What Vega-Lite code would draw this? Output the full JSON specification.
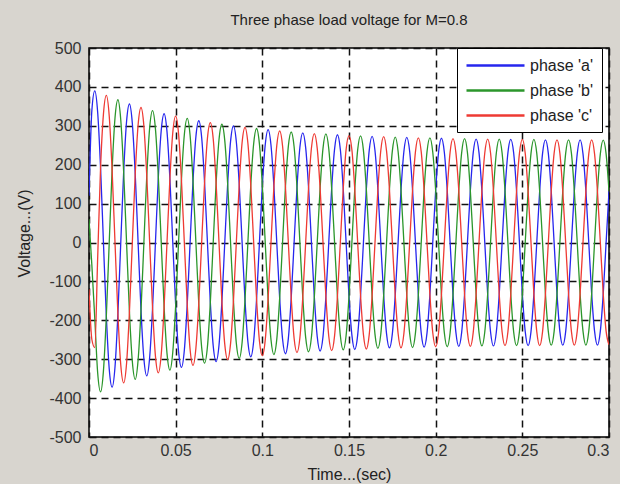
{
"$schema": "https://vega.github.io/schema/vega-lite/v6.json",
"width": 520, "height": 389,
"autosize": {"type": "none"},
"padding": {"left": 89, "top": 48, "right": 11, "bottom": 47},
"background": "#d8d5cf",
"title": {"text": "Three phase load voltage for M=0.8", "font": "Liberation Sans", "fontSize": 15, "fontWeight": "normal", "color": "#222222", "offset": 12, "anchor": "middle"},
"config": {
  "view": {"fill": "white", "stroke": "black", "strokeWidth": 1.5},
  "axis": {"labelFont": "Liberation Sans", "labelFontSize": 16, "labelColor": "#333333", "titleFont": "Liberation Sans", "titleFontSize": 16, "titleFontWeight": "normal", "titleColor": "#222222", "grid": true, "gridColor": "#111111", "gridDash": [7, 5], "gridWidth": 1.5, "gridOpacity": 1, "domain": false, "ticks": false, "zindex": 1}
},
"data": {"values": [
{"p":"a","t":0,"v":120},{"p":"a","t":0.00167,"v":341},{"p":"a","t":0.00333,"v":390},{"p":"a","t":0.005,"v":335},{"p":"a","t":0.00667,"v":192},{"p":"a","t":0.00833,"v":0},{"p":"a","t":0.01,"v":-189},{"p":"a","t":0.01167,"v":-325},{"p":"a","t":0.01333,"v":-372},{"p":"a","t":0.015,"v":-320},{"p":"a","t":0.01667,"v":-183},{"p":"a","t":0.01833,"v":0},
{"p":"a","t":0.02,"v":181},{"p":"a","t":0.02167,"v":311},{"p":"a","t":0.02333,"v":356},{"p":"a","t":0.025,"v":306},{"p":"a","t":0.02667,"v":176},{"p":"a","t":0.02833,"v":0},{"p":"a","t":0.03,"v":-174},{"p":"a","t":0.03167,"v":-299},{"p":"a","t":0.03333,"v":-343},{"p":"a","t":0.035,"v":-295},{"p":"a","t":0.03667,"v":-169},{"p":"a","t":0.03833,"v":0},
{"p":"a","t":0.04,"v":168},{"p":"a","t":0.04167,"v":288},{"p":"a","t":0.04333,"v":331},{"p":"a","t":0.045,"v":285},{"p":"a","t":0.04667,"v":164},{"p":"a","t":0.04833,"v":0},{"p":"a","t":0.05,"v":-162},{"p":"a","t":0.05167,"v":-280},{"p":"a","t":0.05333,"v":-321},{"p":"a","t":0.055,"v":-277},{"p":"a","t":0.05667,"v":-159},{"p":"a","t":0.05833,"v":0},
{"p":"a","t":0.06,"v":158},{"p":"a","t":0.06167,"v":272},{"p":"a","t":0.06333,"v":313},{"p":"a","t":0.065,"v":270},{"p":"a","t":0.06667,"v":155},{"p":"a","t":0.06833,"v":0},{"p":"a","t":0.07,"v":-154},{"p":"a","t":0.07167,"v":-266},{"p":"a","t":0.07333,"v":-306},{"p":"a","t":0.075,"v":-264},{"p":"a","t":0.07667,"v":-152},{"p":"a","t":0.07833,"v":0},
{"p":"a","t":0.08,"v":151},{"p":"a","t":0.08167,"v":260},{"p":"a","t":0.08333,"v":300},{"p":"a","t":0.085,"v":259},{"p":"a","t":0.08667,"v":149},{"p":"a","t":0.08833,"v":0},{"p":"a","t":0.09,"v":-148},{"p":"a","t":0.09167,"v":-255},{"p":"a","t":0.09333,"v":-294},{"p":"a","t":0.095,"v":-254},{"p":"a","t":0.09667,"v":-146},{"p":"a","t":0.09833,"v":0},
{"p":"a","t":0.1,"v":146},{"p":"a","t":0.10167,"v":251},{"p":"a","t":0.10333,"v":290},{"p":"a","t":0.105,"v":250},{"p":"a","t":0.10667,"v":144},{"p":"a","t":0.10833,"v":0},{"p":"a","t":0.11,"v":-143},{"p":"a","t":0.11167,"v":-248},{"p":"a","t":0.11333,"v":-286},{"p":"a","t":0.115,"v":-247},{"p":"a","t":0.11667,"v":-142},{"p":"a","t":0.11833,"v":0},
{"p":"a","t":0.12,"v":142},{"p":"a","t":0.12167,"v":245},{"p":"a","t":0.12333,"v":282},{"p":"a","t":0.125,"v":244},{"p":"a","t":0.12667,"v":141},{"p":"a","t":0.12833,"v":0},{"p":"a","t":0.13,"v":-140},{"p":"a","t":0.13167,"v":-242},{"p":"a","t":0.13333,"v":-279},{"p":"a","t":0.135,"v":-242},{"p":"a","t":0.13667,"v":-139},{"p":"a","t":0.13833,"v":0},
{"p":"a","t":0.14,"v":139},{"p":"a","t":0.14167,"v":240},{"p":"a","t":0.14333,"v":277},{"p":"a","t":0.145,"v":239},{"p":"a","t":0.14667,"v":138},{"p":"a","t":0.14833,"v":0},{"p":"a","t":0.15,"v":-138},{"p":"a","t":0.15167,"v":-238},{"p":"a","t":0.15333,"v":-275},{"p":"a","t":0.155,"v":-238},{"p":"a","t":0.15667,"v":-137},{"p":"a","t":0.15833,"v":0},
{"p":"a","t":0.16,"v":137},{"p":"a","t":0.16167,"v":237},{"p":"a","t":0.16333,"v":273},{"p":"a","t":0.165,"v":236},{"p":"a","t":0.16667,"v":136},{"p":"a","t":0.16833,"v":0},{"p":"a","t":0.17,"v":-136},{"p":"a","t":0.17167,"v":-235},{"p":"a","t":0.17333,"v":-271},{"p":"a","t":0.175,"v":-235},{"p":"a","t":0.17667,"v":-136},{"p":"a","t":0.17833,"v":0},
{"p":"a","t":0.18,"v":135},{"p":"a","t":0.18167,"v":234},{"p":"a","t":0.18333,"v":270},{"p":"a","t":0.185,"v":234},{"p":"a","t":0.18667,"v":135},{"p":"a","t":0.18833,"v":0},{"p":"a","t":0.19,"v":-135},{"p":"a","t":0.19167,"v":-233},{"p":"a","t":0.19333,"v":-269},{"p":"a","t":0.195,"v":-233},{"p":"a","t":0.19667,"v":-134},{"p":"a","t":0.19833,"v":0},
{"p":"a","t":0.2,"v":134},{"p":"a","t":0.20167,"v":232},{"p":"a","t":0.20333,"v":268},{"p":"a","t":0.205,"v":232},{"p":"a","t":0.20667,"v":134},{"p":"a","t":0.20833,"v":0},{"p":"a","t":0.21,"v":-134},{"p":"a","t":0.21167,"v":-231},{"p":"a","t":0.21333,"v":-267},{"p":"a","t":0.215,"v":-231},{"p":"a","t":0.21667,"v":-133},{"p":"a","t":0.21833,"v":0},
{"p":"a","t":0.22,"v":133},{"p":"a","t":0.22167,"v":231},{"p":"a","t":0.22333,"v":266},{"p":"a","t":0.225,"v":231},{"p":"a","t":0.22667,"v":133},{"p":"a","t":0.22833,"v":0},{"p":"a","t":0.23,"v":-133},{"p":"a","t":0.23167,"v":-230},{"p":"a","t":0.23333,"v":-266},{"p":"a","t":0.235,"v":-230},{"p":"a","t":0.23667,"v":-133},{"p":"a","t":0.23833,"v":0},
{"p":"a","t":0.24,"v":133},{"p":"a","t":0.24167,"v":230},{"p":"a","t":0.24333,"v":265},{"p":"a","t":0.245,"v":230},{"p":"a","t":0.24667,"v":133},{"p":"a","t":0.24833,"v":0},{"p":"a","t":0.25,"v":-132},{"p":"a","t":0.25167,"v":-229},{"p":"a","t":0.25333,"v":-265},{"p":"a","t":0.255,"v":-229},{"p":"a","t":0.25667,"v":-132},{"p":"a","t":0.25833,"v":0},
{"p":"a","t":0.26,"v":132},{"p":"a","t":0.26167,"v":229},{"p":"a","t":0.26333,"v":264},{"p":"a","t":0.265,"v":229},{"p":"a","t":0.26667,"v":132},{"p":"a","t":0.26833,"v":0},{"p":"a","t":0.27,"v":-132},{"p":"a","t":0.27167,"v":-229},{"p":"a","t":0.27333,"v":-264},{"p":"a","t":0.275,"v":-229},{"p":"a","t":0.27667,"v":-132},{"p":"a","t":0.27833,"v":0},
{"p":"a","t":0.28,"v":132},{"p":"a","t":0.28167,"v":228},{"p":"a","t":0.28333,"v":264},{"p":"a","t":0.285,"v":228},{"p":"a","t":0.28667,"v":132},{"p":"a","t":0.28833,"v":0},{"p":"a","t":0.29,"v":-132},{"p":"a","t":0.29167,"v":-228},{"p":"a","t":0.29333,"v":-264},{"p":"a","t":0.295,"v":-228},{"p":"a","t":0.29667,"v":-132},{"p":"a","t":0.29833,"v":0},
{"p":"a","t":0.3,"v":132},
{"p":"b","t":0,"v":60},{"p":"b","t":0.00167,"v":-60},{"p":"b","t":0.00333,"v":-195},{"p":"b","t":0.005,"v":-335},{"p":"b","t":0.00667,"v":-384},{"p":"b","t":0.00833,"v":-330},{"p":"b","t":0.01,"v":-189},{"p":"b","t":0.01167,"v":0},{"p":"b","t":0.01333,"v":186},{"p":"b","t":0.015,"v":320},{"p":"b","t":0.01667,"v":367},{"p":"b","t":0.01833,"v":315},
{"p":"b","t":0.02,"v":181},{"p":"b","t":0.02167,"v":0},{"p":"b","t":0.02333,"v":-178},{"p":"b","t":0.025,"v":-306},{"p":"b","t":0.02667,"v":-352},{"p":"b","t":0.02833,"v":-302},{"p":"b","t":0.03,"v":-174},{"p":"b","t":0.03167,"v":0},{"p":"b","t":0.03333,"v":171},{"p":"b","t":0.035,"v":295},{"p":"b","t":0.03667,"v":339},{"p":"b","t":0.03833,"v":292},
{"p":"b","t":0.04,"v":168},{"p":"b","t":0.04167,"v":0},{"p":"b","t":0.04333,"v":-166},{"p":"b","t":0.045,"v":-285},{"p":"b","t":0.04667,"v":-328},{"p":"b","t":0.04833,"v":-282},{"p":"b","t":0.05,"v":-162},{"p":"b","t":0.05167,"v":0},{"p":"b","t":0.05333,"v":161},{"p":"b","t":0.055,"v":277},{"p":"b","t":0.05667,"v":319},{"p":"b","t":0.05833,"v":275},
{"p":"b","t":0.06,"v":158},{"p":"b","t":0.06167,"v":0},{"p":"b","t":0.06333,"v":-157},{"p":"b","t":0.065,"v":-270},{"p":"b","t":0.06667,"v":-310},{"p":"b","t":0.06833,"v":-268},{"p":"b","t":0.07,"v":-154},{"p":"b","t":0.07167,"v":0},{"p":"b","t":0.07333,"v":153},{"p":"b","t":0.075,"v":264},{"p":"b","t":0.07667,"v":304},{"p":"b","t":0.07833,"v":262},
{"p":"b","t":0.08,"v":151},{"p":"b","t":0.08167,"v":0},{"p":"b","t":0.08333,"v":-150},{"p":"b","t":0.085,"v":-259},{"p":"b","t":0.08667,"v":-298},{"p":"b","t":0.08833,"v":-257},{"p":"b","t":0.09,"v":-148},{"p":"b","t":0.09167,"v":0},{"p":"b","t":0.09333,"v":147},{"p":"b","t":0.095,"v":254},{"p":"b","t":0.09667,"v":293},{"p":"b","t":0.09833,"v":253},
{"p":"b","t":0.1,"v":146},{"p":"b","t":0.10167,"v":0},{"p":"b","t":0.10333,"v":-145},{"p":"b","t":0.105,"v":-250},{"p":"b","t":0.10667,"v":-288},{"p":"b","t":0.10833,"v":-249},{"p":"b","t":0.11,"v":-143},{"p":"b","t":0.11167,"v":0},{"p":"b","t":0.11333,"v":143},{"p":"b","t":0.115,"v":247},{"p":"b","t":0.11667,"v":284},{"p":"b","t":0.11833,"v":246},
{"p":"b","t":0.12,"v":142},{"p":"b","t":0.12167,"v":0},{"p":"b","t":0.12333,"v":-141},{"p":"b","t":0.125,"v":-244},{"p":"b","t":0.12667,"v":-281},{"p":"b","t":0.12833,"v":-243},{"p":"b","t":0.13,"v":-140},{"p":"b","t":0.13167,"v":0},{"p":"b","t":0.13333,"v":140},{"p":"b","t":0.135,"v":242},{"p":"b","t":0.13667,"v":279},{"p":"b","t":0.13833,"v":241},
{"p":"b","t":0.14,"v":139},{"p":"b","t":0.14167,"v":0},{"p":"b","t":0.14333,"v":-138},{"p":"b","t":0.145,"v":-239},{"p":"b","t":0.14667,"v":-276},{"p":"b","t":0.14833,"v":-239},{"p":"b","t":0.15,"v":-138},{"p":"b","t":0.15167,"v":0},{"p":"b","t":0.15333,"v":137},{"p":"b","t":0.155,"v":238},{"p":"b","t":0.15667,"v":274},{"p":"b","t":0.15833,"v":237},
{"p":"b","t":0.16,"v":137},{"p":"b","t":0.16167,"v":0},{"p":"b","t":0.16333,"v":-137},{"p":"b","t":0.165,"v":-236},{"p":"b","t":0.16667,"v":-272},{"p":"b","t":0.16833,"v":-236},{"p":"b","t":0.17,"v":-136},{"p":"b","t":0.17167,"v":0},{"p":"b","t":0.17333,"v":136},{"p":"b","t":0.175,"v":235},{"p":"b","t":0.17667,"v":271},{"p":"b","t":0.17833,"v":234},
{"p":"b","t":0.18,"v":135},{"p":"b","t":0.18167,"v":0},{"p":"b","t":0.18333,"v":-135},{"p":"b","t":0.185,"v":-234},{"p":"b","t":0.18667,"v":-270},{"p":"b","t":0.18833,"v":-233},{"p":"b","t":0.19,"v":-135},{"p":"b","t":0.19167,"v":0},{"p":"b","t":0.19333,"v":134},{"p":"b","t":0.195,"v":233},{"p":"b","t":0.19667,"v":269},{"p":"b","t":0.19833,"v":232},
{"p":"b","t":0.2,"v":134},{"p":"b","t":0.20167,"v":0},{"p":"b","t":0.20333,"v":-134},{"p":"b","t":0.205,"v":-232},{"p":"b","t":0.20667,"v":-268},{"p":"b","t":0.20833,"v":-232},{"p":"b","t":0.21,"v":-134},{"p":"b","t":0.21167,"v":0},{"p":"b","t":0.21333,"v":134},{"p":"b","t":0.215,"v":231},{"p":"b","t":0.21667,"v":267},{"p":"b","t":0.21833,"v":231},
{"p":"b","t":0.22,"v":133},{"p":"b","t":0.22167,"v":0},{"p":"b","t":0.22333,"v":-133},{"p":"b","t":0.225,"v":-231},{"p":"b","t":0.22667,"v":-266},{"p":"b","t":0.22833,"v":-230},{"p":"b","t":0.23,"v":-133},{"p":"b","t":0.23167,"v":0},{"p":"b","t":0.23333,"v":133},{"p":"b","t":0.235,"v":230},{"p":"b","t":0.23667,"v":266},{"p":"b","t":0.23833,"v":230},
{"p":"b","t":0.24,"v":133},{"p":"b","t":0.24167,"v":0},{"p":"b","t":0.24333,"v":-133},{"p":"b","t":0.245,"v":-230},{"p":"b","t":0.24667,"v":-265},{"p":"b","t":0.24833,"v":-229},{"p":"b","t":0.25,"v":-132},{"p":"b","t":0.25167,"v":0},{"p":"b","t":0.25333,"v":132},{"p":"b","t":0.255,"v":229},{"p":"b","t":0.25667,"v":265},{"p":"b","t":0.25833,"v":229},
{"p":"b","t":0.26,"v":132},{"p":"b","t":0.26167,"v":0},{"p":"b","t":0.26333,"v":-132},{"p":"b","t":0.265,"v":-229},{"p":"b","t":0.26667,"v":-264},{"p":"b","t":0.26833,"v":-229},{"p":"b","t":0.27,"v":-132},{"p":"b","t":0.27167,"v":0},{"p":"b","t":0.27333,"v":132},{"p":"b","t":0.275,"v":229},{"p":"b","t":0.27667,"v":264},{"p":"b","t":0.27833,"v":229},
{"p":"b","t":0.28,"v":132},{"p":"b","t":0.28167,"v":0},{"p":"b","t":0.28333,"v":-132},{"p":"b","t":0.285,"v":-228},{"p":"b","t":0.28667,"v":-264},{"p":"b","t":0.28833,"v":-228},{"p":"b","t":0.29,"v":-132},{"p":"b","t":0.29167,"v":0},{"p":"b","t":0.29333,"v":132},{"p":"b","t":0.295,"v":228},{"p":"b","t":0.29667,"v":263},{"p":"b","t":0.29833,"v":228},
{"p":"b","t":0.3,"v":132},
{"p":"c","t":0,"v":-120},{"p":"c","t":0.00167,"v":-250},{"p":"c","t":0.00333,"v":-270},{"p":"c","t":0.005,"v":-40},{"p":"c","t":0.00667,"v":192},{"p":"c","t":0.00833,"v":330},{"p":"c","t":0.01,"v":378},{"p":"c","t":0.01167,"v":325},{"p":"c","t":0.01333,"v":186},{"p":"c","t":0.015,"v":0},{"p":"c","t":0.01667,"v":-183},{"p":"c","t":0.01833,"v":-315},
{"p":"c","t":0.02,"v":-361},{"p":"c","t":0.02167,"v":-311},{"p":"c","t":0.02333,"v":-178},{"p":"c","t":0.025,"v":0},{"p":"c","t":0.02667,"v":176},{"p":"c","t":0.02833,"v":302},{"p":"c","t":0.03,"v":347},{"p":"c","t":0.03167,"v":299},{"p":"c","t":0.03333,"v":171},{"p":"c","t":0.035,"v":0},{"p":"c","t":0.03667,"v":-169},{"p":"c","t":0.03833,"v":-292},
{"p":"c","t":0.04,"v":-335},{"p":"c","t":0.04167,"v":-288},{"p":"c","t":0.04333,"v":-166},{"p":"c","t":0.045,"v":0},{"p":"c","t":0.04667,"v":164},{"p":"c","t":0.04833,"v":282},{"p":"c","t":0.05,"v":325},{"p":"c","t":0.05167,"v":280},{"p":"c","t":0.05333,"v":161},{"p":"c","t":0.055,"v":0},{"p":"c","t":0.05667,"v":-159},{"p":"c","t":0.05833,"v":-275},
{"p":"c","t":0.06,"v":-316},{"p":"c","t":0.06167,"v":-272},{"p":"c","t":0.06333,"v":-157},{"p":"c","t":0.065,"v":0},{"p":"c","t":0.06667,"v":155},{"p":"c","t":0.06833,"v":268},{"p":"c","t":0.07,"v":308},{"p":"c","t":0.07167,"v":266},{"p":"c","t":0.07333,"v":153},{"p":"c","t":0.075,"v":0},{"p":"c","t":0.07667,"v":-152},{"p":"c","t":0.07833,"v":-262},
{"p":"c","t":0.08,"v":-301},{"p":"c","t":0.08167,"v":-260},{"p":"c","t":0.08333,"v":-150},{"p":"c","t":0.085,"v":0},{"p":"c","t":0.08667,"v":149},{"p":"c","t":0.08833,"v":257},{"p":"c","t":0.09,"v":296},{"p":"c","t":0.09167,"v":255},{"p":"c","t":0.09333,"v":147},{"p":"c","t":0.095,"v":0},{"p":"c","t":0.09667,"v":-146},{"p":"c","t":0.09833,"v":-253},
{"p":"c","t":0.1,"v":-291},{"p":"c","t":0.10167,"v":-251},{"p":"c","t":0.10333,"v":-145},{"p":"c","t":0.105,"v":0},{"p":"c","t":0.10667,"v":144},{"p":"c","t":0.10833,"v":249},{"p":"c","t":0.11,"v":287},{"p":"c","t":0.11167,"v":248},{"p":"c","t":0.11333,"v":143},{"p":"c","t":0.115,"v":0},{"p":"c","t":0.11667,"v":-142},{"p":"c","t":0.11833,"v":-246},
{"p":"c","t":0.12,"v":-283},{"p":"c","t":0.12167,"v":-245},{"p":"c","t":0.12333,"v":-141},{"p":"c","t":0.125,"v":0},{"p":"c","t":0.12667,"v":141},{"p":"c","t":0.12833,"v":243},{"p":"c","t":0.13,"v":280},{"p":"c","t":0.13167,"v":242},{"p":"c","t":0.13333,"v":140},{"p":"c","t":0.135,"v":0},{"p":"c","t":0.13667,"v":-139},{"p":"c","t":0.13833,"v":-241},
{"p":"c","t":0.14,"v":-278},{"p":"c","t":0.14167,"v":-240},{"p":"c","t":0.14333,"v":-138},{"p":"c","t":0.145,"v":0},{"p":"c","t":0.14667,"v":138},{"p":"c","t":0.14833,"v":239},{"p":"c","t":0.15,"v":275},{"p":"c","t":0.15167,"v":238},{"p":"c","t":0.15333,"v":137},{"p":"c","t":0.155,"v":0},{"p":"c","t":0.15667,"v":-137},{"p":"c","t":0.15833,"v":-237},
{"p":"c","t":0.16,"v":-274},{"p":"c","t":0.16167,"v":-237},{"p":"c","t":0.16333,"v":-137},{"p":"c","t":0.165,"v":0},{"p":"c","t":0.16667,"v":136},{"p":"c","t":0.16833,"v":236},{"p":"c","t":0.17,"v":272},{"p":"c","t":0.17167,"v":235},{"p":"c","t":0.17333,"v":136},{"p":"c","t":0.175,"v":0},{"p":"c","t":0.17667,"v":-136},{"p":"c","t":0.17833,"v":-234},
{"p":"c","t":0.18,"v":-271},{"p":"c","t":0.18167,"v":-234},{"p":"c","t":0.18333,"v":-135},{"p":"c","t":0.185,"v":0},{"p":"c","t":0.18667,"v":135},{"p":"c","t":0.18833,"v":233},{"p":"c","t":0.19,"v":269},{"p":"c","t":0.19167,"v":233},{"p":"c","t":0.19333,"v":134},{"p":"c","t":0.195,"v":0},{"p":"c","t":0.19667,"v":-134},{"p":"c","t":0.19833,"v":-232},
{"p":"c","t":0.2,"v":-268},{"p":"c","t":0.20167,"v":-232},{"p":"c","t":0.20333,"v":-134},{"p":"c","t":0.205,"v":0},{"p":"c","t":0.20667,"v":134},{"p":"c","t":0.20833,"v":232},{"p":"c","t":0.21,"v":267},{"p":"c","t":0.21167,"v":231},{"p":"c","t":0.21333,"v":134},{"p":"c","t":0.215,"v":0},{"p":"c","t":0.21667,"v":-133},{"p":"c","t":0.21833,"v":-231},
{"p":"c","t":0.22,"v":-267},{"p":"c","t":0.22167,"v":-231},{"p":"c","t":0.22333,"v":-133},{"p":"c","t":0.225,"v":0},{"p":"c","t":0.22667,"v":133},{"p":"c","t":0.22833,"v":230},{"p":"c","t":0.23,"v":266},{"p":"c","t":0.23167,"v":230},{"p":"c","t":0.23333,"v":133},{"p":"c","t":0.235,"v":0},{"p":"c","t":0.23667,"v":-133},{"p":"c","t":0.23833,"v":-230},
{"p":"c","t":0.24,"v":-265},{"p":"c","t":0.24167,"v":-230},{"p":"c","t":0.24333,"v":-133},{"p":"c","t":0.245,"v":0},{"p":"c","t":0.24667,"v":133},{"p":"c","t":0.24833,"v":229},{"p":"c","t":0.25,"v":265},{"p":"c","t":0.25167,"v":229},{"p":"c","t":0.25333,"v":132},{"p":"c","t":0.255,"v":0},{"p":"c","t":0.25667,"v":-132},{"p":"c","t":0.25833,"v":-229},
{"p":"c","t":0.26,"v":-265},{"p":"c","t":0.26167,"v":-229},{"p":"c","t":0.26333,"v":-132},{"p":"c","t":0.265,"v":0},{"p":"c","t":0.26667,"v":132},{"p":"c","t":0.26833,"v":229},{"p":"c","t":0.27,"v":264},{"p":"c","t":0.27167,"v":229},{"p":"c","t":0.27333,"v":132},{"p":"c","t":0.275,"v":0},{"p":"c","t":0.27667,"v":-132},{"p":"c","t":0.27833,"v":-229},
{"p":"c","t":0.28,"v":-264},{"p":"c","t":0.28167,"v":-228},{"p":"c","t":0.28333,"v":-132},{"p":"c","t":0.285,"v":0},{"p":"c","t":0.28667,"v":132},{"p":"c","t":0.28833,"v":228},{"p":"c","t":0.29,"v":264},{"p":"c","t":0.29167,"v":228},{"p":"c","t":0.29333,"v":132},{"p":"c","t":0.295,"v":0},{"p":"c","t":0.29667,"v":-132},{"p":"c","t":0.29833,"v":-228},
{"p":"c","t":0.3,"v":-263}
]},
"mark": {"type": "line", "interpolate": "monotone", "strokeWidth": 1.3, "clip": true},
"encoding": {
  "x": {"field": "t", "type": "quantitative", "scale": {"domain": [0, 0.3], "nice": false, "zero": false},
        "axis": {"values": [0, 0.05, 0.1, 0.15, 0.2, 0.25, 0.3], "labelExpr": "'' + datum.value", "labelPadding": 5, "title": "Time...(sec)", "titleY": 37, "titleBaseline": "middle"}},
  "y": {"field": "v", "type": "quantitative", "scale": {"domain": [-500, 500], "nice": false},
        "axis": {"values": [-500, -400, -300, -200, -100, 0, 100, 200, 300, 400, 500], "labelExpr": "'' + datum.value", "labelPadding": 8, "title": "Voltage...(V)", "titleX": -65, "titleY": 185, "titleBaseline": "middle", "titleAlign": "center"}},
  "color": {"field": "p", "type": "nominal",
        "scale": {"domain": ["a", "b", "c"], "range": ["#2626ee", "#2b962b", "#ee3a33"]},
        "legend": {"orient": "none", "legendX": 368, "legendY": 0, "title": null, "fillColor": "white", "strokeColor": "black", "padding": 8, "cornerRadius": 0,
                   "symbolType": "M-1,0L6.25,0", "symbolSize": 256, "symbolStrokeWidth": 2.5,
                   "labelFont": "Liberation Sans", "labelFontSize": 16, "labelColor": "#222222", "labelOffset": 46, "rowPadding": 7,
                   "labelExpr": "\"phase '\" + datum.label + \"'\""}}
}
}
